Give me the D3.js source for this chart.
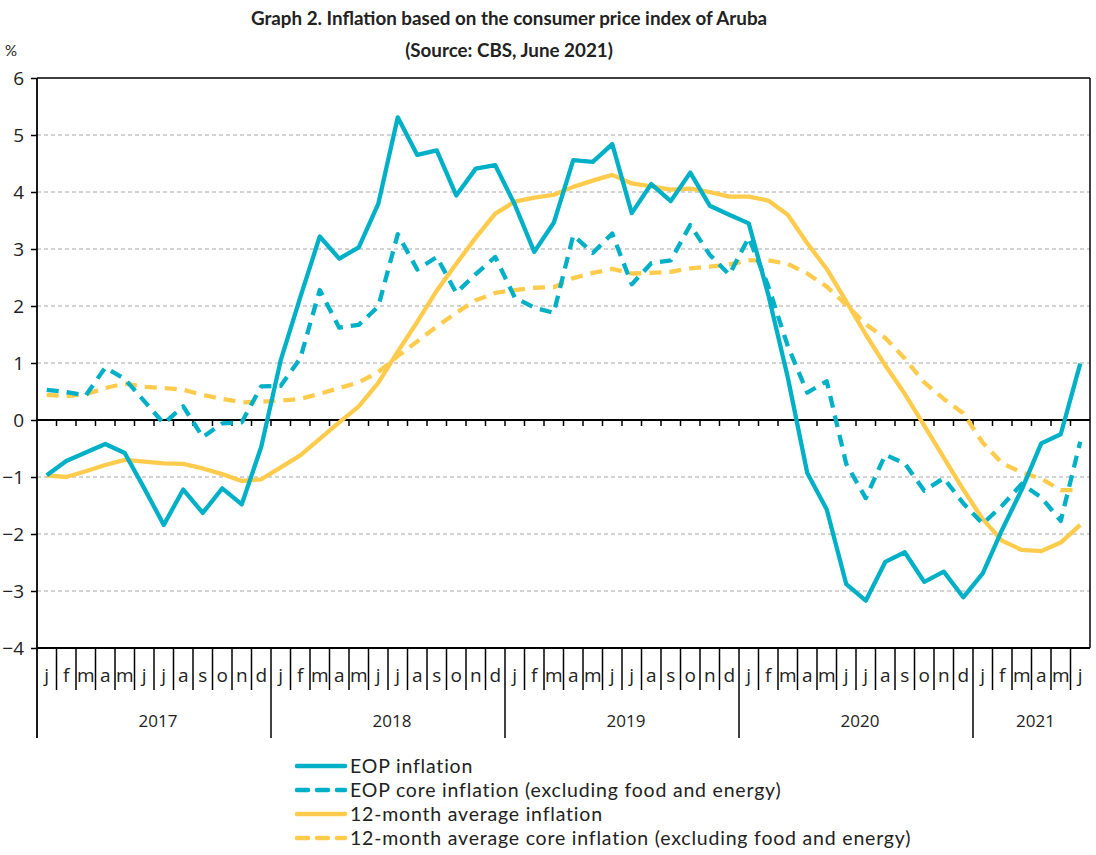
<!DOCTYPE html>
<html>
<head>
<meta charset="utf-8">
<script src="https://cdn.jsdelivr.net/npm/d3@7"></script>
<style>
  body { margin: 0; background: #fff; }
  text { font-family: Lato, "Open Sans", sans-serif; fill: #222; }
</style>
</head>
<body>
<div id="chart-area"></div>
<script>
// Data: monthly, Jan 2017 - Jun 2021
var years = ["2017", "2018", "2019", "2020", "2021"];
var monthLetters = ["j", "f", "m", "a", "m", "j", "j", "a", "s", "o", "n", "d"];
var yTicks = [-4, -3, -2, -1, 0, 1, 2, 3, 4, 5, 6];

var eopInflation = [
    -0.97, -0.72, -0.57, -0.42, -0.58, -1.2, -1.84, -1.22, -1.63, -1.2, -1.48, -0.47,
    1.05, 2.15, 3.22, 2.83, 3.03, 3.79, 5.31, 4.65, 4.73, 3.94, 4.41, 4.47,
    3.78, 2.95, 3.46, 4.56, 4.53, 4.84, 3.63, 4.14, 3.84, 4.34, 3.76, 3.6,
    3.45, 2.2, 0.75, -0.93, -1.57, -2.88, -3.17, -2.49, -2.32, -2.84, -2.66, -3.11,
    -2.69, -1.92, -1.22, -0.41, -0.25, 0.99
];
var eopCore = [
    0.53, 0.49, 0.43, 0.92, 0.72, 0.33, -0.06, 0.24, -0.3, -0.06, -0.04, 0.59,
    0.6, 1.08, 2.28, 1.62, 1.67, 1.99, 3.26, 2.64, 2.86, 2.23, 2.56, 2.86,
    2.15, 1.97, 1.88, 3.24, 2.93, 3.27, 2.38, 2.75, 2.8, 3.42, 2.9, 2.55,
    3.2, 2.35, 1.3, 0.48, 0.68, -0.77, -1.37, -0.61, -0.76, -1.24, -1.02, -1.46,
    -1.82, -1.5, -1.12, -1.36, -1.77, -0.38
];
var avgInflation = [
    -0.97, -1.0, -0.9, -0.79, -0.7, -0.73, -0.76, -0.77, -0.85, -0.95, -1.07, -1.04,
    -0.83, -0.62, -0.33, -0.04, 0.24, 0.65, 1.2, 1.72, 2.27, 2.74, 3.2, 3.62,
    3.83, 3.9, 3.95, 4.09, 4.2, 4.3, 4.15, 4.1, 4.04, 4.06, 4.0, 3.92,
    3.92, 3.85, 3.6, 3.1, 2.65, 2.08, 1.5, 0.96, 0.46, -0.1, -0.66, -1.22,
    -1.74, -2.12, -2.28, -2.3, -2.15, -1.84
];
var avgCore = [
    0.44, 0.42, 0.45, 0.56, 0.64, 0.58, 0.56, 0.53, 0.44, 0.37, 0.31, 0.32,
    0.34, 0.37, 0.46, 0.56, 0.66, 0.84, 1.12, 1.38, 1.64, 1.88, 2.1, 2.23,
    2.28, 2.32, 2.33, 2.49, 2.58, 2.65, 2.57, 2.58, 2.6, 2.66, 2.69, 2.73,
    2.8, 2.8, 2.74, 2.57, 2.34, 2.02, 1.68, 1.44, 1.08, 0.66, 0.37, 0.12,
    -0.4, -0.76, -0.92, -1.03, -1.23, -1.23
];
var seriesNames = [
    "EOP inflation",
    "EOP core inflation (excluding food and energy)",
    "12-month average inflation",
    "12-month average core inflation (excluding food and energy)"
];

var teal = "#00B0C6", yellow = "#FFCB4C";
var series = [
    { name: seriesNames[0], values: eopInflation, color: teal, dash: null },
    { name: seriesNames[1], values: eopCore, color: teal, dash: "12,8" },
    { name: seriesNames[2], values: avgInflation, color: yellow, dash: null },
    { name: seriesNames[3], values: avgCore, color: yellow, dash: "12,8" }
];

var nMonths = eopInflation.length;
var months = d3.range(nMonths);

var margin = { left: 37, right: 6, top: 78, bottom: 207 },
    width = 1096 - margin.left - margin.right,
    height = 855 - margin.top - margin.bottom;

var svg = d3.select("#chart-area").append("svg")
    .attr("width", 1096)
    .attr("height", 855);

// Title
svg.append("text")
    .attr("x", 509).attr("y", 25)
    .attr("text-anchor", "middle")
    .style("font-size", "18.8px").style("font-weight", "bold")
    .text("Graph 2. Inflation based on the consumer price index of Aruba");
svg.append("text")
    .attr("x", 509).attr("y", 57)
    .attr("text-anchor", "middle")
    .style("font-size", "18.8px").style("font-weight", "bold")
    .text("(Source: CBS, June 2021)");

var g = svg.append("g")
    .attr("transform", "translate(" + margin.left + "," + margin.top + ")");

// Scales
var x = d3.scaleBand().domain(months).range([0, width]);
var y = d3.scaleLinear().domain([-4, 6]).range([height, 0]);

// Gridlines
g.append("g")
    .selectAll("line")
    .data(yTicks.filter(function (d) { return d !== 0 && d !== 6 && d !== -4; }))
    .enter().append("line")
    .attr("x1", 0).attr("x2", width)
    .attr("y1", function (d) { return y(d); })
    .attr("y2", function (d) { return y(d); })
    .attr("stroke", "#a6a6a6")
    .attr("stroke-width", 1)
    .attr("stroke-dasharray", "4,3");

// Frame: top and right
g.append("line").attr("x1", 0).attr("x2", width).attr("y1", 0).attr("y2", 0)
    .attr("stroke", "#000").attr("stroke-width", 1.5);
g.append("line").attr("x1", width).attr("x2", width).attr("y1", 0).attr("y2", height)
    .attr("stroke", "#000").attr("stroke-width", 1.5);

// Y axis
var yAxis = g.append("g")
    .call(d3.axisLeft(y).tickValues(yTicks).tickSize(6).tickFormat(d3.format("d")));
yAxis.select(".domain").remove();
yAxis.selectAll(".tick line").attr("stroke", "#000").attr("stroke-width", 1.5);
yAxis.selectAll(".tick text")
    .attr("x", -13)
    .style("font-size", "19px")
    .style("font-family", "'Open Sans', sans-serif")
    .attr("fill", "#222");
g.append("line").attr("x1", 0).attr("x2", 0).attr("y1", 0).attr("y2", height + 90)
    .attr("stroke", "#000").attr("stroke-width", 1.8);

svg.append("text")
    .attr("x", 5).attr("y", 56)
    .style("font-size", "15px")
    .text("%");

// Zero line with small month ticks
g.append("line").attr("x1", 0).attr("x2", width).attr("y1", y(0)).attr("y2", y(0))
    .attr("stroke", "#000").attr("stroke-width", 1.8);
g.append("g")
    .selectAll("line")
    .data(months.slice(1))
    .enter().append("line")
    .attr("x1", function (d) { return x(d); })
    .attr("x2", function (d) { return x(d); })
    .attr("y1", y(0)).attr("y2", y(0) + 6)
    .attr("stroke", "#000").attr("stroke-width", 1.5);

// Bottom axis: months and years
var xAxis = g.append("g")
    .attr("transform", "translate(0," + height + ")");
xAxis.append("line").attr("x1", 0).attr("x2", width).attr("y1", 0).attr("y2", 0)
    .attr("stroke", "#000").attr("stroke-width", 1.8);
xAxis.selectAll(".mtick")
    .data(months.slice(1))
    .enter().append("line")
    .attr("class", "mtick")
    .attr("x1", function (d) { return x(d); })
    .attr("x2", function (d) { return x(d); })
    .attr("y1", 0)
    .attr("y2", function (d) { return d % 12 === 0 ? 90 : 42; })
    .attr("stroke", "#000").attr("stroke-width", 1.5);
xAxis.selectAll(".mlabel")
    .data(months)
    .enter().append("text")
    .attr("class", "mlabel")
    .attr("x", function (d) { return x(d) + x.bandwidth() / 2; })
    .attr("y", 34)
    .attr("text-anchor", "middle")
    .style("font-size", "19px")
    .style("font-family", "'Open Sans', sans-serif")
    .text(function (d) { return monthLetters[d % 12]; });
xAxis.selectAll(".ylabel")
    .data(years)
    .enter().append("text")
    .attr("class", "ylabel")
    .attr("x", function (d, i) {
        var first = i * 12, last = Math.min(i * 12 + 11, nMonths - 1);
        return (x(first) + x(last) + x.bandwidth()) / 2 + 4;
    })
    .attr("y", 79)
    .attr("text-anchor", "middle")
    .style("font-size", "17px")
    .style("font-family", "'Open Sans', sans-serif")
    .text(function (d) { return d; });

// Lines
var line = d3.line()
    .x(function (d, i) { return x(i) + x.bandwidth() / 2; })
    .y(function (d) { return y(d); });

g.selectAll(".series")
    .data(series.slice().reverse())
    .enter().append("path")
    .attr("class", "series")
    .attr("fill", "none")
    .attr("stroke", function (d) { return d.color; })
    .attr("stroke-width", 4.3)
    .attr("stroke-linejoin", "round")
    .attr("stroke-dasharray", function (d) { return d.dash; })
    .attr("d", function (d) { return line(d.values); });

// Legend
var legend = svg.append("g")
    .attr("transform", "translate(297,766)");
var rows = legend.selectAll("g")
    .data(series)
    .enter().append("g")
    .attr("transform", function (d, i) { return "translate(0," + i * 24 + ")"; });
rows.append("line")
    .attr("x1", 0).attr("x2", 48).attr("y1", 0).attr("y2", 0)
    .attr("stroke", function (d) { return d.color; })
    .attr("stroke-width", 4.5)
    .attr("stroke-linecap", "round")
    .attr("stroke-dasharray", function (d) { return d.dash ? "11,9" : null; });
rows.append("text")
    .attr("x", 53).attr("y", 7)
    .style("font-size", "19.5px")
    .style("letter-spacing", "0.8px")
    .text(function (d) { return d.name; });
</script>
</body>
</html>
